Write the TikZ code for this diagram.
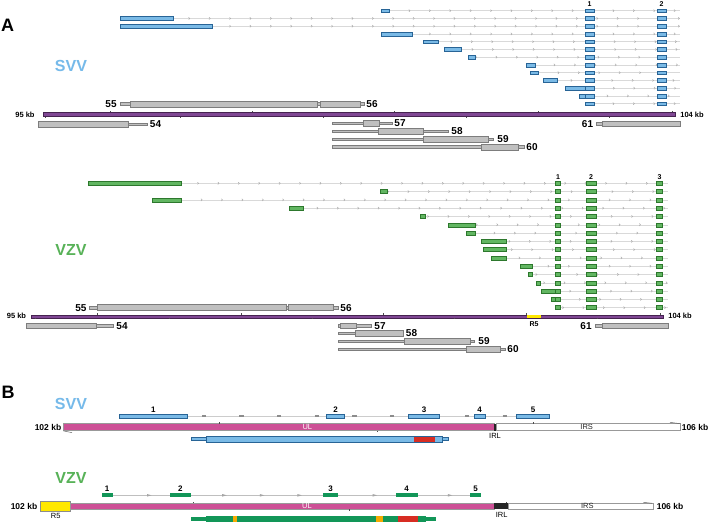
\documentclass[tikz,border=0pt]{standalone}
\usepackage{fontspec}
\setmainfont{Liberation Sans}
\usetikzlibrary{arrows.meta,decorations.markings}
\definecolor{svvfill}{RGB}{122,186,230}
\definecolor{svvedge}{RGB}{40,100,150}
\definecolor{svvtext}{RGB}{118,186,234}
\definecolor{vzvfill}{RGB}{98,182,98}
\definecolor{vzvedge}{RGB}{45,120,45}
\definecolor{vzvtext}{RGB}{88,178,88}
\definecolor{vzvdeep}{RGB}{18,150,88}
\definecolor{chrompurple}{RGB}{128,72,148}
\definecolor{chromedge}{RGB}{70,35,80}
\definecolor{genefill}{RGB}{192,192,192}
\definecolor{geneedge}{RGB}{125,125,125}
\definecolor{ulpink}{RGB}{205,80,150}
\definecolor{hitred}{RGB}{215,45,35}
\definecolor{hitorange}{RGB}{245,170,0}
\definecolor{rfive}{RGB}{255,232,0}

\newcommand{\genebox}[3]{\draw[gene] (#1,#3-2.9) rectangle (#2,#3+2.9);}
\newcommand{\genestem}[3]{\draw[gene] (#1,#3-1.3) rectangle (#2,#3+1.3);}

\begin{document}
\begin{tikzpicture}[x=1pt,y=-1pt,
  intron/.style={draw=black!15, line width=0.5pt, postaction={decorate},
    decoration={markings, mark=between positions 9pt and 1 step 20.4pt with {\arrow[black!32]{Straight Barb[length=1.2pt,width=2.2pt]}}}},
  intronS/.style={draw=black!20, line width=0.8pt, postaction={decorate},
    decoration={markings, mark=between positions 85pt and 1 step 37.6pt with {\draw[black!45, line width=1.4pt] (-2.2pt,0) -- (2.2pt,0);}}},
  intronV/.style={draw=black!25, line width=0.8pt, postaction={decorate},
    decoration={markings, mark=between positions 48.3pt and 1 step 37.6pt with {\fill[black!35] (-3pt,-1.3pt) -- (1.5pt,0) -- (-3pt,1.3pt) -- cycle;}}},
  exonS/.style={fill=svvfill, draw=svvedge, line width=0.5pt},
  exonV/.style={fill=vzvfill, draw=vzvedge, line width=0.5pt},
  gene/.style={fill=genefill, draw=geneedge, line width=0.5pt},
  chrom/.style={fill=chrompurple, draw=chromedge, line width=0.5pt},
  kbtick/.style={draw=black!70, line width=0.4pt},
  glab/.style={inner sep=0pt, font=\bfseries\fontsize{10}{10}\selectfont},
  kb/.style={inner sep=0pt, font=\bfseries\fontsize{7.5}{8}\selectfont},
  kbB/.style={inner sep=0pt, font=\bfseries\fontsize{8.5}{9}\selectfont},
  elab/.style={inner sep=0pt, font=\bfseries\fontsize{7}{7}\selectfont},
  eBlab/.style={inner sep=0pt, font=\bfseries\fontsize{8}{8}\selectfont},
  seg/.style={inner sep=0pt, font=\fontsize{7.5}{8}\selectfont},
  virus/.style={inner sep=0pt, font=\bfseries\fontsize{16}{16}\selectfont},
  panel/.style={inner sep=0pt, font=\bfseries\fontsize{18}{18}\selectfont}]
\useasboundingbox[fill=white] (0,0) rectangle (709,527);

% ---- A: SVV transcripts
\node[panel] (panelA) at (7.5,25) {A};
\node[virus, text=svvtext] (svvA) at (71,66) {SVV};
\node[elab] (exS1) at (589.5,4.5) {1};
\node[elab] (exS2) at (661.5,4.5) {2};
\foreach \s/\e [count=\i] in {381/389,120/173,120/212,381/412,423/438,444/461,468/475,526/535,530/538,543/557,565/594,579/594,585/594}{
  \pgfmathsetmacro\yy{10.7+(\i-1)*7.75}
  \draw[intron] (\s,\yy) -- (680,\yy);
  \draw[exonS] (\s,\yy-1.9) rectangle (\e,\yy+1.9);
  \draw[exonS] (585,\yy-1.9) rectangle (594,\yy+1.9);
  \draw[exonS] (657,\yy-1.9) rectangle (666,\yy+1.9);
}
\draw[chrom] (43,112.3) rectangle (675,116.7);
\foreach \t in {110,252,394,538,672} \draw[kbtick] (\t,112.3) -- (\t,110.8);
\foreach \t in {45,180,323,466,609} \draw[kbtick] (\t,116.7) -- (\t,118.2);
\node[kb] (kbS95) at (25,114.5) {95 kb};
\node[kb] (kbS104) at (692,114.5) {104 kb};
\genestem{120}{130}{104}\genebox{130}{317}{104}
\genestem{317}{320}{104}\genebox{320}{360}{104}\genestem{360}{364}{104}
\node[glab] (g55S) at (111,104.5) {55};
\node[glab] (g56S) at (372,104.5) {56};
\genestem{128}{147}{124.2}\genebox{38}{128}{124.2}
\node[glab] (g54S) at (155.5,124.5) {54};
\genestem{332}{392}{123.3}\genebox{363}{379}{123.3}
\node[glab] (g57S) at (400,123.3) {57};
\genestem{332}{448}{131.3}\genebox{378}{423}{131.3}
\node[glab] (g58S) at (457,131.3) {58};
\genestem{332}{493}{139.3}\genebox{423}{488}{139.3}
\node[glab] (g59S) at (503,139.3) {59};
\genestem{332}{524}{147}\genebox{481}{518}{147}
\node[glab] (g60S) at (532,147) {60};
\genestem{596}{602}{123.7}\genebox{602}{680}{123.7}
\node[glab] (g61S) at (587.5,123.7) {61};

% ---- A: VZV transcripts
\node[virus, text=vzvtext] (vzvA) at (71,250) {VZV};
\node[elab] (exV1) at (558,176.7) {1};
\node[elab] (exV2) at (591,176.7) {2};
\node[elab] (exV3) at (659.5,176.7) {3};
\foreach \s/\e [count=\i] in {88/181.7,380/387.7,152.7/181.7,289/303.3,420/425,448.3/475.3,466/475.3,481/506.7,483.3/506.7,491/506.7,520/532.7,528.3/532.7,536/540.7,541.7/560.7,551.3/560.7,555/560.7}{
  \pgfmathsetmacro\yy{183.3+(\i-1)*8.29}
  \draw[intron] (\s,\yy) -- (668,\yy);
  \draw[exonV] (\s,\yy-2) rectangle (\e,\yy+2);
  \draw[exonV] (555,\yy-2) rectangle (560.7,\yy+2);
  \draw[exonV] (586,\yy-2) rectangle (596,\yy+2);
  \draw[exonV] (656,\yy-2) rectangle (662.7,\yy+2);
}
\draw[chrom] (31,314.8) rectangle (663,317.8);
\fill[rfive] (526.7,314.5) rectangle (540.7,318.1);
\foreach \t in {97.3,240.7,382.7,526,660} \draw[kbtick] (\t,314.8) -- (\t,313.3);
\foreach \t in {35,169.3,311.7,454.3,596.7} \draw[kbtick] (\t,317.8) -- (\t,319.3);
\node[kb] (kbV95) at (16.5,315.5) {95 kb};
\node[kb] (kbV104) at (680,315.5) {104 kb};
\node[kb, font=\bfseries\fontsize{7}{7}\selectfont] (r5A) at (534,324.5) {R5};
\genestem{89}{97.3}{307.5}\genebox{97.3}{286.7}{307.5}
\genestem{286.7}{288.3}{307.5}\genestem{333.3}{338.3}{307.5}\genebox{288.3}{333.3}{307.5}
\node[glab] (g55V) at (81,307.7) {55};
\node[glab] (g56V) at (346,307.7) {56};
\genestem{96.7}{113.3}{325.8}\genebox{26}{96.7}{325.8}
\node[glab] (g54V) at (122,326) {54};
\genestem{338.3}{371.7}{325.7}\genebox{340.7}{356.7}{325.7}
\node[glab] (g57V) at (380,325.7) {57};
\genestem{338.3}{403.3}{333.3}\genebox{355}{403.3}{333.3}
\node[glab] (g58V) at (411.5,333.3) {58};
\genestem{338.3}{474.3}{341.3}\genebox{404.3}{470}{341.3}
\node[glab] (g59V) at (484,341.3) {59};
\genestem{338.3}{505.7}{349.3}\genebox{466}{500.7}{349.3}
\node[glab] (g60V) at (513,349.3) {60};
\genestem{595.7}{602.3}{325.7}\genebox{602.3}{668.3}{325.7}
\node[glab] (g61V) at (586,325.7) {61};

% ---- B: SVV junction
\node[panel] (panelB) at (8,392) {B};
\node[virus, text=svvtext] (svvB) at (71,404.3) {SVV};
\draw[intronS] (119,416) -- (549,416);
\foreach \a/\b [count=\k] in {119/187.7,326.7/344.3,408.7/439.3,474/485.3,516.7/549.3}{
  \draw[exonS] (\a,414.2) rectangle (\b,417.8);
  \node[eBlab] (exSB\k) at ({(\a+\b)/2},409.3) {\k};
}
\draw[fill=ulpink, draw=black!40, line width=0.6pt] (63.3,423.7) rectangle (494,430.7);
\fill[black!85] (494,423.7) rectangle (496.7,430.7);
\draw[fill=white, draw=black!40, line width=0.6pt] (496.7,423.7) rectangle (680,430.7);
\foreach \t in {219,532.7} \draw[kbtick] (\t,423.7) -- (\t,422.2);
\draw[kbtick] (376.7,430.7) -- (376.7,432.2);
\draw[black!60, line width=0.5pt] (63.3,430.9) -- (72,432.6);
\draw[black!60, line width=0.5pt] (670,422.3) -- (680,423.7);
\node[seg, text=white] (ulS) at (307.3,427.3) {UL};
\node[seg, text=black!85] (irsS) at (586.7,427.3) {IRS};
\node[seg] (irlS) at (495,436.3) {IRL};
\node[kbB] (kbS102) at (48,427) {102 kb};
\node[kbB] (kbS106) at (695,427) {106 kb};
\draw[exonS] (191,437.4) rectangle (448.7,440.6);
\fill[svvfill] (206.7,436) rectangle (442.7,442.7);
\fill[hitred] (414,436) rectangle (435,442.7);
\draw[svvedge, line width=0.5pt] (206.7,436) rectangle (442.7,442.7);

% ---- B: VZV junction
\node[virus, text=vzvtext] (vzvB) at (71,478.3) {VZV};
\draw[intronV] (101.7,495.3) -- (481,495.3);
\foreach \a/\b [count=\k] in {101.7/112.7,170/190.7,322.7/338.3,395.7/417.7,470/481}{
  \fill[vzvdeep] (\a,493.3) rectangle (\b,497.3);
  \node[eBlab] (exVB\k) at ({(\a+\b)/2},488.3) {\k};
}
\draw[fill=rfive, draw=black!45, line width=0.6pt] (40.7,501) rectangle (70.7,511.7);
\draw[fill=ulpink, draw=black!40, line width=0.6pt] (70.7,503.3) rectangle (494.3,509);
\fill[black!85] (494.3,503.3) rectangle (508.3,509);
\draw[fill=white, draw=black!40, line width=0.6pt] (508.3,503.3) rectangle (653.3,509);
\foreach \t in {193.3,506} \draw[kbtick] (\t,503.3) -- (\t,501.8);
\draw[kbtick] (349.3,509) -- (349.3,510.5);
\draw[black!60, line width=0.5pt] (643.3,502.3) -- (652,503.3);
\node[seg, text=white] (ulV) at (307,506.3) {UL};
\node[seg, text=black!85] (irsV) at (587.3,506.3) {IRS};
\node[seg] (irlV) at (501.7,514.8) {IRL};
\node[seg] (r5B) at (55.7,516.3) {R5};
\node[kbB] (kbV102) at (24,506) {102 kb};
\node[kbB] (kbV106) at (670,506) {106 kb};
\fill[vzvdeep] (190.7,517.4) rectangle (436,520.6);
\fill[vzvdeep] (206,515.7) rectangle (426,522.3);
\fill[hitorange] (232.7,515.7) rectangle (236.7,522.3);
\fill[hitorange] (376,515.7) rectangle (382.7,522.3);
\fill[hitred] (397.7,515.7) rectangle (418.3,522.3);
\end{tikzpicture}
\end{document}
